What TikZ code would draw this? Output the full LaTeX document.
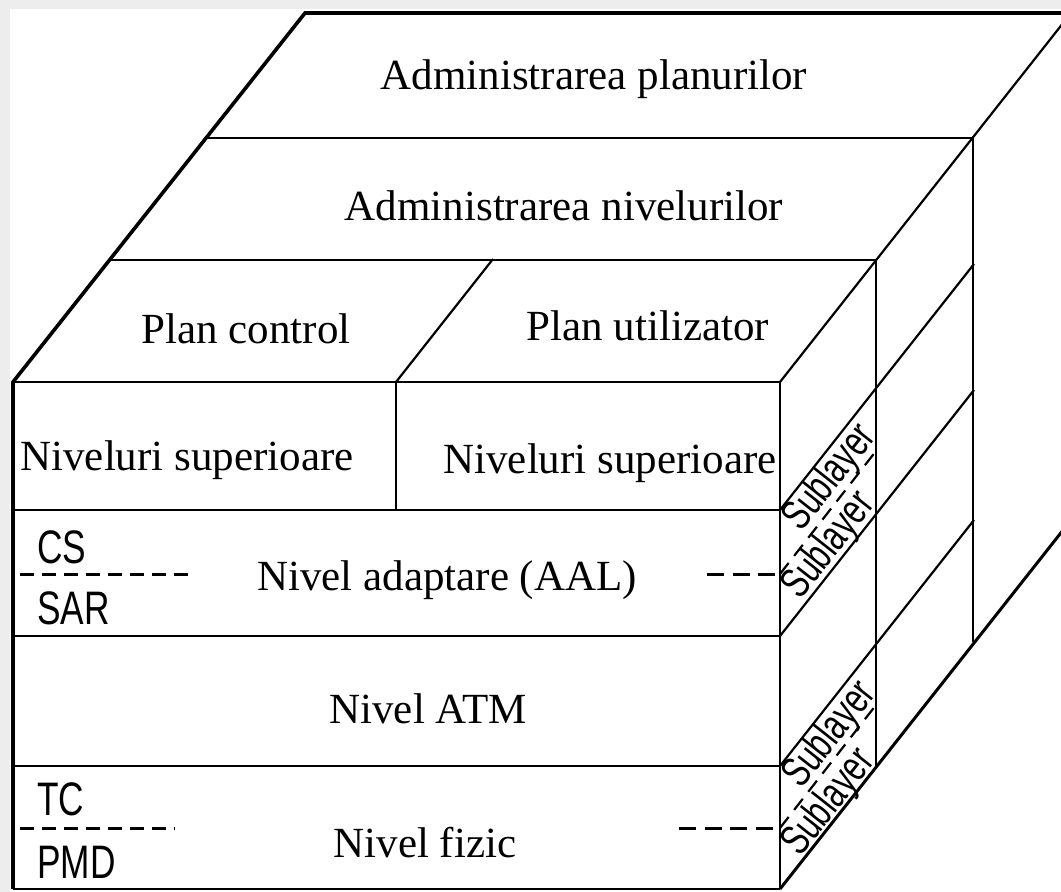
\documentclass[tikz,border=0pt]{standalone}
\usepackage{fontspec}
\usepackage{graphicx}
\setmainfont{Liberation Serif}
\newfontfamily\narrowsans{Liberation Sans}
\newcommand{\cond}[1]{\scalebox{0.75}[1]{#1}}
\newcommand{\condsub}[1]{\scalebox{0.72}[1]{#1}}

\begin{document}
\begin{tikzpicture}[x=1pt,y=-1pt,
  outer/.style={line width=3.6pt, line join=miter},
  layer/.style={line width=2.8pt},
  side/.style={line width=2.2pt},
  sep/.style={line width=3pt, dash pattern=on 14pt off 8pt},
  sepr/.style={line width=3pt, dash pattern=on 17pt off 8.5pt},
  sepside/.style={line width=2.2pt, dash pattern=on 14pt off 9pt},
  lbl/.style={font=\fontsize{43}{50}\selectfont, inner sep=0pt, anchor=base},
  sub/.style={font=\narrowsans\fontsize{47}{50}\selectfont, inner sep=0pt, anchor=base west},
  sublayer/.style={font=\narrowsans\fontsize{43}{40}\selectfont, inner sep=0pt,
    align=left, rotate=51.7}]

\useasboundingbox (0,0) rectangle (1061,892);
\fill[black!7] (0,0) rectangle (1061,892);
\fill[white] (10,9) rectangle (1061,892);
\clip (0,0) rectangle (1061,892);

% corners of the front face and the depth steps
\coordinate (FL) at (13,382);
\coordinate (FR) at (780,382);
\coordinate (BL) at (13,889);
\coordinate (BR) at (780,889);
\coordinate (TL) at (305,13);
\coordinate (TR) at (1071,13);

% outer outline of the block
\draw[outer] (BL) -- (FL) -- (TL) -- (TR);
\draw[side] (TR) -- (FR);
\draw[line width=3pt] (BR) -- (1071,520);

% horizontal layers of the top face
\draw[layer] (207,138) -- (973,138);
\draw[layer] (110,260) -- (876,260);
\draw[layer] (FL) -- (FR);

% front face layers
\draw[layer] (13,510) -- (780,510);
\draw[layer] (13,636) -- (780,636);
\draw[layer] (13,766) -- (780,766);
\draw[layer] (BL) -- (BR);

% control / user plane split
\draw[side] (396,382) -- (396,510);
\draw[side] (396,382) -- (493,259);

% right side face
\draw[side] (FR) -- (BR);
\draw[side] (876,259) -- (876,766);
\draw[side] (973,136) -- (973,642);
\draw[side] (780,510) -- (974,264);
\draw[side] (780,636) -- (974,390);
\draw[side] (780,766) -- (974,520);

% sublayer separators
\draw[sep] (20,574) -- (193,574);
\draw[sepr] (707,574) -- (780,574);
\draw[sepside] (780,574) -- (876,451);
\draw[sep] (20,828) -- (175,828);
\draw[sepr] (679,828) -- (780,828);
\draw[sepside] (780,828) -- (876,705);

% labels
\node[lbl] (planmgmt) at (594,89) {Administrarea planurilor};
\node[lbl] (layermgmt) at (564,220) {Administrarea nivelurilor};
\node[lbl] (ctrl) at (246,343) {Plan control};
\node[lbl] (user) at (648,340) {Plan utilizator};
\node[lbl] (upperc) at (187,470) {Niveluri superioare};
\node[lbl] (upperu) at (610,473) {Niveluri superioare};
\node[lbl] (aal) at (447,590) {Nivel adaptare (AAL)};
\node[lbl] (atm) at (428,723) {Nivel ATM};
\node[lbl] (phy) at (425,857) {Nivel fizic};

\node[sub] (cs) at (37,563) {\cond{CS}};
\node[sub] (sar) at (37,624) {\cond{SAR}};
\node[sub] (tc) at (37,815) {\cond{TC}};
\node[sub] (pmd) at (37,878) {\cond{PMD}};

% sublayer names on the side face, one pair per split layer
\node[sublayer] (aalsub) at (830,512) {\hspace*{54pt}\condsub{Sublayer}\\\condsub{Sublayer}};
\node[sublayer] (physub) at (830,769) {\hspace*{54pt}\condsub{Sublayer}\\\condsub{Sublayer}};
\end{tikzpicture}
\end{document}
